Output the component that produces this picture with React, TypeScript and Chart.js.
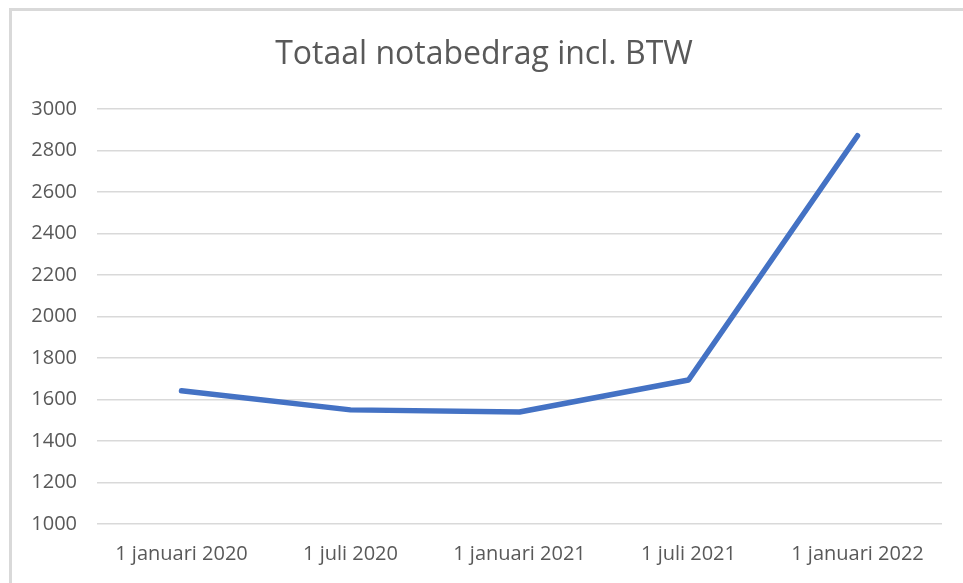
import React, { useEffect, useRef } from "react";
import { Chart, registerables } from "chart.js";

Chart.register(...registerables);

const categories = ["1 januari 2020", "1 juli 2020", "1 januari 2021", "1 juli 2021", "1 januari 2022"];
const totals = [1642, 1550, 1540, 1694, 2871];
const chartTitle = "Totaal notabedrag incl. BTW";
const yMin = 1000;
const yMax = 3000;
const yStep = 200;

export default function App() {
  const ref = useRef<HTMLCanvasElement | null>(null);

  useEffect(() => {
    if (!ref.current) return;
    const font = "'Open Sans', 'Noto Sans', sans-serif";
    const chart = new Chart(ref.current, {
      type: "line",
      data: {
        labels: categories,
        datasets: [
          {
            label: chartTitle,
            data: totals,
            borderColor: "#4472C4",
            backgroundColor: "#4472C4",
            borderWidth: 5.5,
            borderCapStyle: "round",
            borderJoinStyle: "round",
            pointRadius: 0,
            tension: 0,
            fill: false,
          },
        ],
      },
      options: {
        responsive: false,
        animation: false,
        layout: { padding: { left: 26, right: 21, top: 0, bottom: 0 } },
        plugins: {
          legend: { display: false },
          tooltip: { enabled: false },
          title: {
            display: true,
            text: chartTitle,
            color: "#595959",
            font: { family: font, size: 32, weight: "normal" },
            padding: { top: 36, bottom: 34.6 },
          },
        },
        scales: {
          x: {
            offset: true,
            grid: { display: false, drawTicks: false },
            border: { display: false },
            ticks: {
              color: "#595959",
              font: { family: font, size: 20 },
              padding: 18,
              maxRotation: 0,
              autoSkip: false,
            },
            afterFit: (scale: any) => {
              scale.height = 59;
            },
          },
          y: {
            min: yMin,
            max: yMax,
            grid: { color: "#d9d9d9", lineWidth: 1.5, drawTicks: false },
            border: { display: false },
            ticks: {
              stepSize: yStep,
              color: "#595959",
              font: { family: font, size: 20 },
              padding: 20,
              callback: (v: any) => String(v),
            },
            afterFit: (scale: any) => {
              scale.width = 71;
            },
          },
        },
      },
    });
    return () => chart.destroy();
  }, []);

  return (
    <div
      style={{
        position: "fixed",
        left: 0,
        top: 0,
        width: 963,
        height: 583,
        overflow: "hidden",
        background: "#ffffff",
      }}
    >
      <div
        style={{
          position: "absolute",
          left: 9,
          top: 8,
          width: 1200,
          height: 1200,
          borderTop: "3px solid #d9d9d9",
          borderLeft: "3px solid #d9d9d9",
          boxSizing: "border-box",
        }}
      />
      <canvas
        ref={ref}
        width={963}
        height={583}
        style={{ position: "absolute", left: 0, top: 0, width: 963, height: 583 }}
      />
    </div>
  );
}
